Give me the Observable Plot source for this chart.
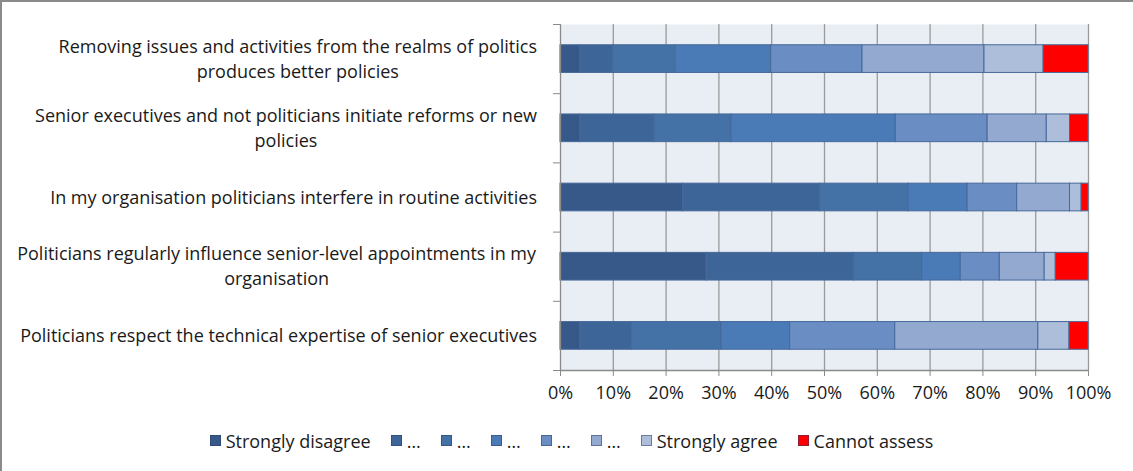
<!DOCTYPE html>
<html>
<head>
<meta charset="utf-8">
<script src="https://cdn.jsdelivr.net/npm/d3@7"></script>
<script src="https://cdn.jsdelivr.net/npm/@observablehq/plot@0.6"></script>
<style>
  html, body { margin: 0; padding: 0; background: #fff; }
  #wrap { position: relative; width: 1133px; height: 471px; overflow: hidden; background: #fff; font-family: "Open Sans", Lato, sans-serif; }
  #edge { position: absolute; left: 0; top: 0; width: 1133px; height: 471px; border-top: 2px solid #8a8a8a; border-left: 2px solid #8a8a8a; box-sizing: border-box; pointer-events: none; }
  #legend { display: flex; justify-content: center; align-items: center; gap: 20px; height: 61px; padding-left: 10px; box-sizing: border-box; font-size: 18px; color: #1a1a1a; }
  #legend .item { display: flex; align-items: center; }
  #legend .sw { width: 11px; height: 11px; box-sizing: border-box; border: 1px solid rgba(40,60,100,0.5); margin-right: 5px; }
</style>
</head>
<body>
<div id="wrap"><div id="chart"></div><div id="legend"></div><div id="edge"></div></div>
<script>
// Statements (top to bottom)
const statements = [
  "Removing issues and activities from the realms of politics\nproduces better policies",
  "Senior executives and not politicians initiate reforms or new\npolicies",
  "In my organisation politicians interfere in routine activities",
  "Politicians regularly influence senior-level appointments in my\norganisation",
  "Politicians respect the technical expertise of senior executives"
];

// Response series (legend order) and their labels
const seriesKeys = ["sd", "l2", "l3", "l4", "l5", "l6", "sa", "ca"];
const seriesLabels = ["Strongly disagree", "…", "…", "…", "…", "…", "Strongly agree", "Cannot assess"];
const seriesColors = ["#36598a", "#3d6597", "#4472a6", "#4a7bb7", "#6a8ec3", "#93a9d0", "#adbeda", "#ff0000"];

// Percentages per series, one value per statement (same order as statements)
const stronglyDisagree = [3.8, 3.8, 23.2, 27.7, 3.8];
const level2 = [6.2, 14.0, 26.0, 27.9, 9.7];
const level3 = [11.8, 14.6, 16.7, 12.9, 17.0];
const level4 = [18.1, 31.1, 11.2, 7.3, 13.0];
const level5 = [17.3, 17.4, 9.4, 7.4, 19.9];
const level6 = [23.1, 11.2, 10.0, 8.5, 27.1];
const stronglyAgree = [11.2, 4.4, 2.2, 2.1, 5.9];
const cannotAssess = [8.5, 3.5, 1.3, 6.2, 3.6];

// Tick values for the percentage axis
const xTicks = [0, 10, 20, 30, 40, 50, 60, 70, 80, 90, 100];

const seriesValues = [stronglyDisagree, level2, level3, level4, level5, level6, stronglyAgree, cannotAssess];

// Build stacked rows
const rows = [];
statements.forEach((s, i) => {
  let acc = 0;
  seriesKeys.forEach((k, j) => {
    const v = seriesValues[j][i];
    rows.push({stmt: s, i, key: k, value: v, x1: acc, x2: acc + v});
    acc += v;
  });
});

const FONT = "'Open Sans', Lato, sans-serif";

const chart = Plot.plot({
  width: 1133,
  height: 410,
  marginLeft: 560,
  marginRight: 45,
  marginTop: 24,
  marginBottom: 40,
  style: {fontFamily: FONT, fontSize: "18px", color: "#1a1a1a", background: "transparent"},
  x: {domain: [0, 100]},
  y: {domain: [0, statements.length], reverse: true},
  color: {domain: seriesKeys, range: seriesColors},
  marks: [
    Plot.frame({fill: "#e9edf4", stroke: null}),
    Plot.ruleX(xTicks.slice(1), {y1: 0, y2: statements.length, stroke: "#9a9a9a", strokeWidth: 1.3}),
    Plot.rectX(rows, {x1: "x1", x2: "x2", y1: d => d.i + 0.3, y2: d => d.i + 0.7, fill: "key", stroke: "#46699a", strokeWidth: 1}),
    Plot.ruleX([0], {y1: 0, y2: statements.length, stroke: "#8a8a8a", strokeWidth: 1.3}),
    Plot.ruleY([statements.length], {stroke: "#8a8a8a", strokeWidth: 1.3}),
    Plot.axisY({ticks: d3.range(0, statements.length + 1), tickSize: 7, tickFormat: () => "", stroke: "#8a8a8a"}),
    Plot.axisX({ticks: xTicks, tickFormat: d => d + "%", tickSize: 6, tickPadding: 10, stroke: "#8a8a8a", fill: "#1a1a1a", fontSize: 18, label: null}),
    Plot.text(statements, {x: 0, y: (d, i) => i + 0.5, text: d => d, textAnchor: "middle", lineHeight: 1.39, fontSize: 18, dy: -2, fill: "#1a1a1a"})
  ]
});

document.getElementById("chart").appendChild(chart);

// Centre each label's lines and right-align the block against the axis
const rightEdge = 537;
const firstLines = statements.map(s => s.split("\n")[0]);
const labelTexts = Array.from(chart.querySelectorAll("text")).filter(t => {
  const first = t.querySelector("tspan") ? t.querySelector("tspan").textContent : t.textContent;
  return firstLines.includes(first) || statements.includes(t.textContent);
});
labelTexts.forEach(t => {
  const r = t.getBoundingClientRect();
  const cr = chart.getBoundingClientRect();
  const curCenter = (r.left - cr.left) + r.width / 2;
  const want = rightEdge - r.width / 2;
  const shift = want - curCenter;
  const tr = t.getAttribute("transform") || "";
  t.setAttribute("transform", `translate(${shift},0) ` + tr);
});

// Legend
const legend = document.getElementById("legend");
seriesKeys.forEach((k, j) => {
  const item = document.createElement("div");
  item.className = "item";
  const sw = document.createElement("span");
  sw.className = "sw";
  sw.style.background = seriesColors[j];
  const tx = document.createElement("span");
  tx.textContent = seriesLabels[j];
  item.appendChild(sw);
  item.appendChild(tx);
  legend.appendChild(item);
});
</script>
</body>
</html>
